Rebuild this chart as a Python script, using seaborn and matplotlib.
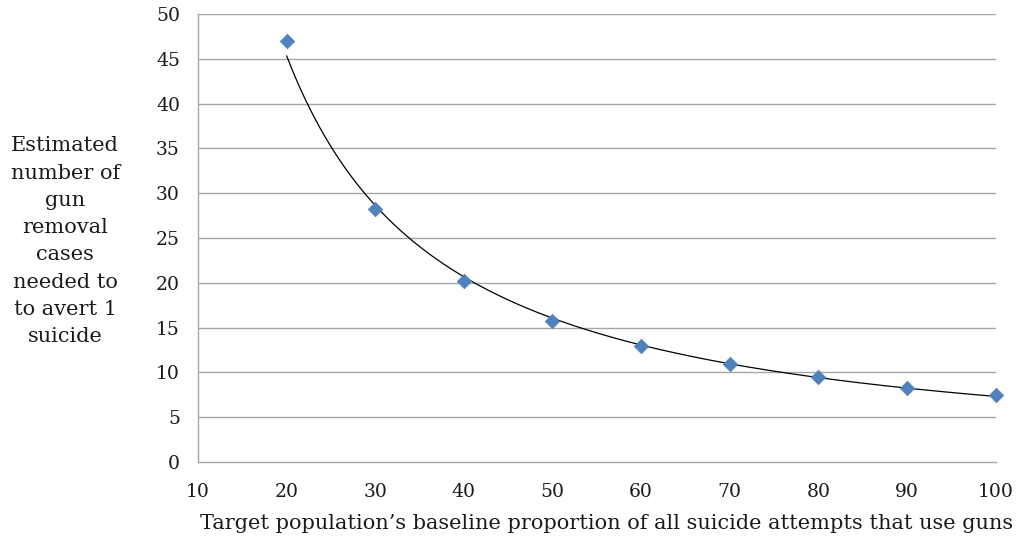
import numpy as np
import pandas as pd
import matplotlib
matplotlib.use("Agg")
import matplotlib.pyplot as plt
import seaborn as sns

# data
proportion = [20, 30, 40, 50, 60, 70, 80, 90, 100]
cases_needed = [47.0, 28.2, 20.2, 15.7, 12.95, 10.95, 9.45, 8.3, 7.5]
x_ticks = list(range(10, 101, 10))
y_ticks = list(range(0, 51, 5))

df = pd.DataFrame({"proportion": proportion, "cases": cases_needed})

# power trendline (least squares in log space, like Excel)
b, log_a = np.polyfit(np.log(df["proportion"]), np.log(df["cases"]), 1)
xs = np.linspace(min(proportion), max(proportion), 300)
trend = pd.DataFrame({"proportion": xs, "cases": np.exp(log_a) * xs ** b})

sns.set_style("white")
plt.rcParams["font.family"] = ["DejaVu Serif"]

fig = plt.figure(figsize=(10.18, 5.42), dpi=100)
ax = fig.add_axes([0.1945, 0.1476, 0.7835, 0.8266])

grid_col = "#a6a6a6"
for yv in y_ticks[1:]:
    ax.axhline(yv, color=grid_col, lw=1, zorder=0)

sns.lineplot(data=trend, x="proportion", y="cases", color="black", lw=0.9,
             ax=ax, zorder=2)
sns.scatterplot(data=df, x="proportion", y="cases", marker="D", s=55,
                color="#4f81bd", edgecolor="#4f81bd", linewidth=0.5,
                ax=ax, zorder=3, clip_on=False)

ax.set_xlim(10, 100)
ax.set_ylim(0, 50)
ax.set_xticks(x_ticks)
ax.set_yticks(y_ticks)
ax.tick_params(axis="both", labelsize=13.5, colors=grid_col, labelcolor="#1a1a1a",
               length=5, width=1, direction="out")
ax.tick_params(axis="x", pad=10)
ax.tick_params(axis="y", pad=8)
for side in ["top", "right"]:
    ax.spines[side].set_visible(False)
for side in ["left", "bottom"]:
    ax.spines[side].set_color(grid_col)
    ax.spines[side].set_linewidth(1)

ax.set_xlabel("Target population\u2019s baseline proportion of all suicide attempts that use guns",
              fontsize=15, color="#1a1a1a")
ax.xaxis.set_label_coords(0.512, -0.138)
ax.xaxis.label.set_va("center")
ax.set_ylabel("")
fig.text(0.064, 0.555,
         "Estimated\nnumber of\ngun\nremoval\ncases\nneeded to\nto avert 1\nsuicide",
         ha="center", va="center", fontsize=15, color="#1a1a1a", linespacing=1.55)

fig.savefig("out.png", dpi=100)
